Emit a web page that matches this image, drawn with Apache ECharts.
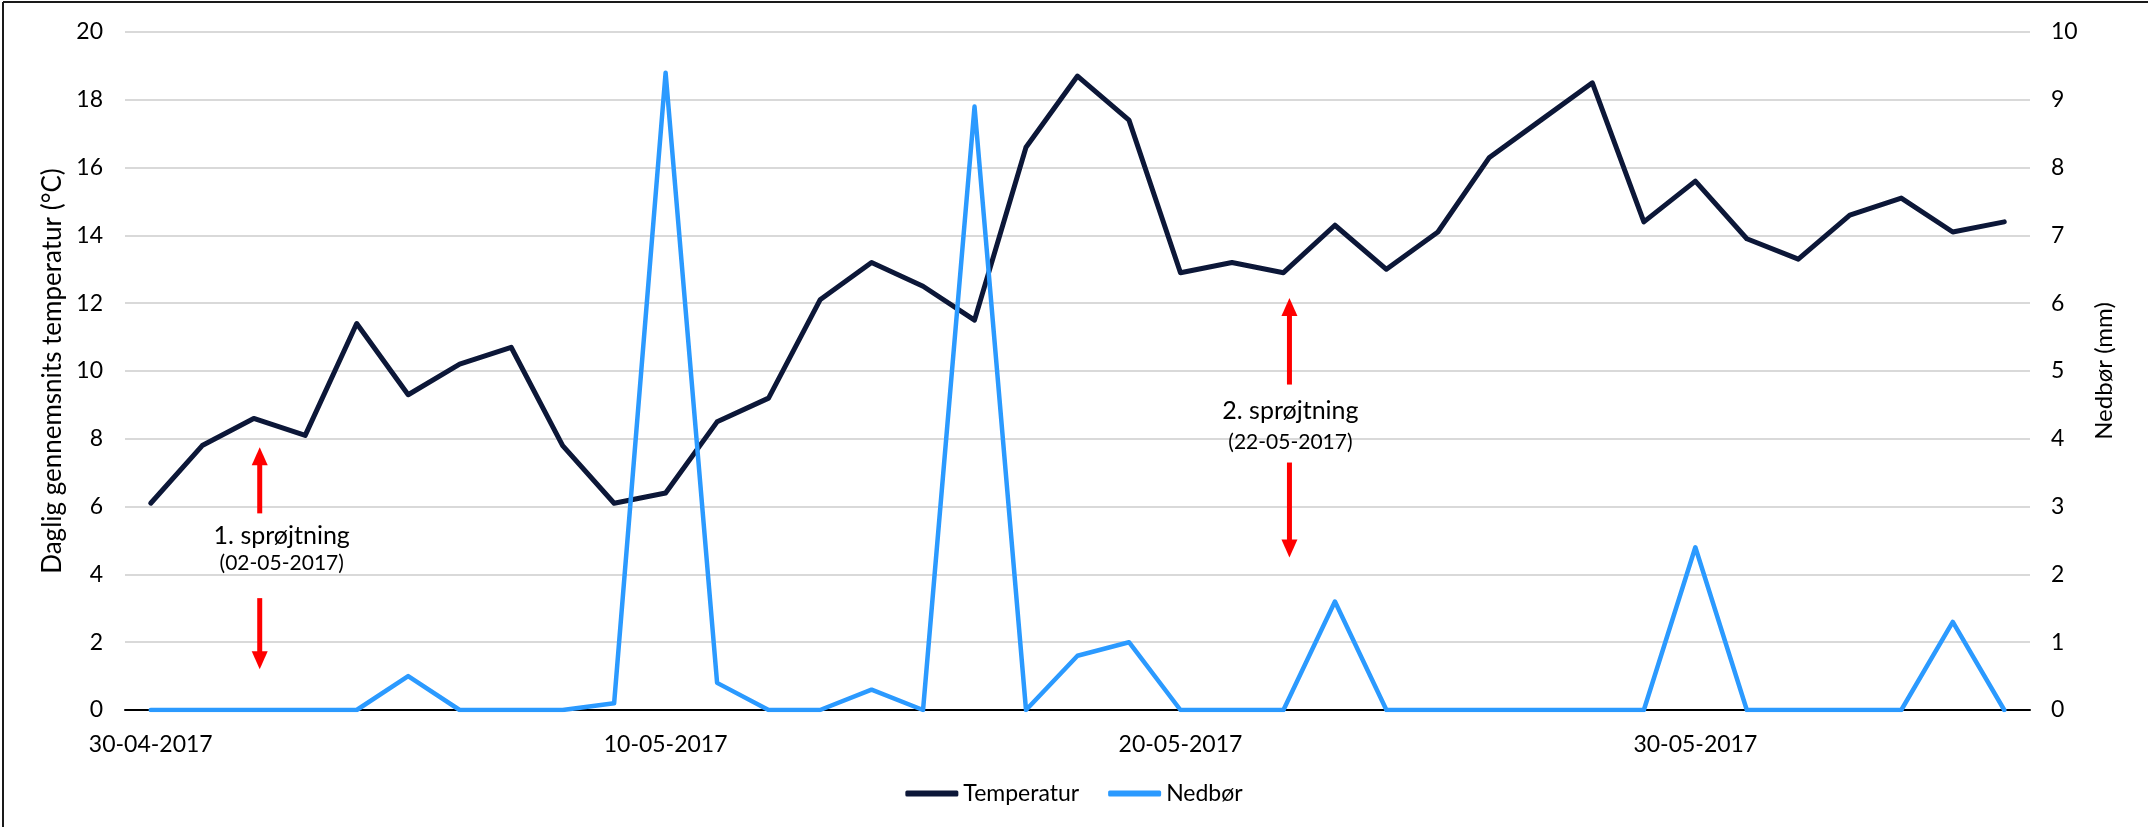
<!DOCTYPE html>
<html>
<head>
<meta charset="utf-8">
<script src="https://cdn.jsdelivr.net/npm/echarts@6.0.0/dist/echarts.min.js"></script>
<style>
  html, body { margin: 0; padding: 0; background: #fff; }
  #chart { width: 2148px; height: 827px; }
</style>
</head>
<body>
<div id="chart"></div>
<script>
// dates on the x axis (one per day)
var dates = [
  '30-04-2017', '01-05-2017', '02-05-2017', '03-05-2017', '04-05-2017', '05-05-2017',
  '06-05-2017', '07-05-2017', '08-05-2017', '09-05-2017', '10-05-2017', '11-05-2017',
  '12-05-2017', '13-05-2017', '14-05-2017', '15-05-2017', '16-05-2017', '17-05-2017',
  '18-05-2017', '19-05-2017', '20-05-2017', '21-05-2017', '22-05-2017', '23-05-2017',
  '24-05-2017', '25-05-2017', '26-05-2017', '27-05-2017', '28-05-2017', '29-05-2017',
  '30-05-2017', '31-05-2017', '01-06-2017', '02-06-2017', '03-06-2017', '04-06-2017',
  '05-06-2017'
];

// daily mean temperature (°C)
var temperatur = [
  6.1, 7.8, 8.6, 8.1, 11.4, 9.3, 10.2, 10.7, 7.8, 6.1,
  6.4, 8.5, 9.2, 12.1, 13.2, 12.5, 11.5, 16.6, 18.7, 17.4,
  12.9, 13.2, 12.9, 14.3, 13.0, 14.1, 16.3, 17.4, 18.5, 14.4,
  15.6, 13.9, 13.3, 14.6, 15.1, 14.1, 14.4
];

// precipitation (mm)
var nedbor = [
  0, 0, 0, 0, 0, 0.5, 0, 0, 0, 0.1,
  9.4, 0.4, 0, 0, 0.3, 0, 8.9, 0, 0.8, 1.0,
  0, 0, 0, 1.6, 0, 0, 0, 0, 0, 0,
  2.4, 0, 0, 0, 0, 1.3, 0
];

// axis ranges
var tempAxis = { min: 0, max: 20, interval: 2 };
var rainAxis = { min: 0, max: 10, interval: 1 };

// spraying dates and their labels
var sprojtDates = ['02-05-2017', '22-05-2017'];
var sprojtLabels = ['1. sprøjtning', '2. sprøjtning'];

// annotation layout (in temperature units), kept apart from the data
var annotLayout = [
  { upTail: 5.8, upTip: 7.75, text: 5.13, date: 4.34, downTail: 3.3, downTip: 1.2, dx: 6, textDx: 22 },
  { upTail: 9.6, upTip: 12.15, text: 8.82, date: 7.9, downTail: 7.3, downTip: 4.5, dx: 6, textDx: 1 }
];

var FONT = 'Lato';
var chart = echarts.init(document.getElementById('chart'));

chart.setOption({
  animation: false,
  textStyle: { fontFamily: FONT },
  grid: { left: 125, right: 118, top: 32, bottom: 117 },
  legend: {
    data: ['Temperatur', 'Nedbør'],
    left: 'center',
    top: 777,
    icon: 'roundRect',
    itemWidth: 53,
    itemHeight: 6,
    itemGap: 29,
    textStyle: { fontSize: 23, color: '#000', fontFamily: FONT }
  },
  xAxis: {
    type: 'category',
    boundaryGap: true,
    data: dates,
    axisLine: { lineStyle: { color: '#000', width: 2 } },
    axisTick: { show: false },
    axisLabel: { interval: 9, fontSize: 23, color: '#000', margin: 23, fontFamily: FONT }
  },
  yAxis: [{
    type: 'value',
    min: tempAxis.min,
    max: tempAxis.max,
    interval: tempAxis.interval,
    name: 'Daglig gennemsnits temperatur (°C)',
    nameLocation: 'middle',
    nameRotate: 90,
    nameGap: 58,
    nameTextStyle: { fontSize: 26, color: '#000', fontFamily: FONT },
    axisLine: { show: false },
    axisTick: { show: false },
    axisLabel: { fontSize: 23, color: '#000', margin: 22, fontFamily: FONT },
    splitLine: { lineStyle: { color: '#d9d9d9', width: 2 } }
  }, {
    type: 'value',
    position: 'right',
    min: rainAxis.min,
    max: rainAxis.max,
    interval: rainAxis.interval,
    name: 'Nedbør (mm)',
    nameLocation: 'middle',
    nameRotate: 90,
    nameGap: 62,
    nameTextStyle: { fontSize: 24, color: '#000', fontFamily: FONT },
    axisLine: { show: false },
    axisTick: { show: false },
    axisLabel: { fontSize: 23, color: '#000', margin: 21, fontFamily: FONT },
    splitLine: { show: false }
  }],
  series: [{
    name: 'Temperatur',
    type: 'line',
    yAxisIndex: 0,
    data: temperatur,
    symbol: 'none',
    color: '#0c1738',
    lineStyle: { width: 5, color: '#0c1738', cap: 'round', join: 'round' }
  }, {
    name: 'Nedbør',
    type: 'line',
    yAxisIndex: 1,
    data: nedbor,
    symbol: 'none',
    color: '#2b9aff',
    lineStyle: { width: 4.5, color: '#2b9aff', cap: 'round', join: 'round' }
  }]
});

// arrows and labels for the spraying dates, placed through the axis scales
function px(dateStr, val) {
  return chart.convertToPixel({ xAxisIndex: 0, yAxisIndex: 0 }, [dateStr, val]);
}

function arrow(x, yTail, yTip, color) {
  var dir = yTip < yTail ? 1 : -1; // 1 = pointing up
  var headLen = 18, headHalf = 8;
  return [{
    type: 'line',
    shape: { x1: x, y1: yTail, x2: x, y2: yTip + dir * (headLen - 2) },
    style: { stroke: color, lineWidth: 5 }
  }, {
    type: 'polygon',
    shape: { points: [[x, yTip], [x - headHalf, yTip + dir * headLen], [x + headHalf, yTip + dir * headLen]] },
    style: { fill: color }
  }];
}

var elems = [
  { type: 'line', shape: { x1: 3, y1: 2, x2: 2148, y2: 2 }, style: { stroke: '#1a1a1a', lineWidth: 2 } },
  { type: 'line', shape: { x1: 3, y1: 2, x2: 3, y2: 827 }, style: { stroke: '#1a1a1a', lineWidth: 2 } }
];

sprojtDates.forEach(function (d, i) {
  var L = annotLayout[i];
  var x = px(d, 0)[0] + L.dx;
  var tx = x + L.textDx;
  elems = elems.concat(arrow(x, px(d, L.upTail)[1], px(d, L.upTip)[1], '#ff0000'));
  elems = elems.concat(arrow(x, px(d, L.downTail)[1], px(d, L.downTip)[1], '#ff0000'));
  elems.push({
    type: 'text', x: tx, y: px(d, L.text)[1],
    style: { text: sprojtLabels[i], fill: '#000', font: '25px ' + FONT, align: 'center', verticalAlign: 'middle' }
  });
  elems.push({
    type: 'text', x: tx, y: px(d, L.date)[1],
    style: { text: '(' + d + ')', fill: '#000', font: '21px ' + FONT, align: 'center', verticalAlign: 'middle' }
  });
});

chart.setOption({ graphic: elems });

window.onresize = function () {
  chart.resize();
};
</script>
</body>
</html>
